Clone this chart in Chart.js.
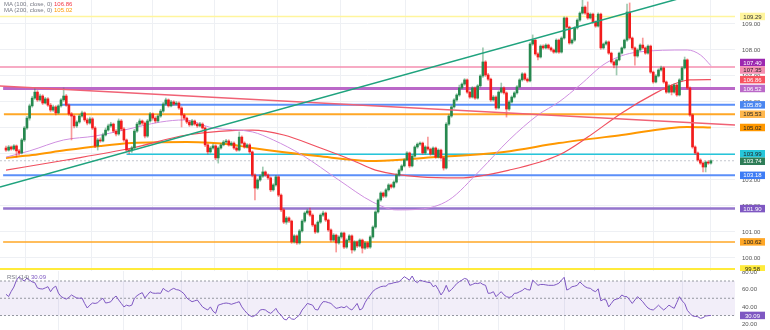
<!DOCTYPE html>
<html>
<head>
<meta charset="utf-8">
<script src="https://cdn.jsdelivr.net/npm/chart.js@4.4.0/dist/chart.umd.min.js"></script>
<style>
  body { margin: 0; background: #fff; }
  #wrap { position: relative; width: 770px; height: 330px; overflow: hidden; font-family: "Liberation Sans", Arial, sans-serif; }
  canvas { position: absolute; left: 0; }
  #main { top: 0; }
  #rsi { top: 271px; }
  .leg { position: absolute; font-size: 6px; line-height: 7px; color: #787b86; white-space: nowrap; }
</style>
</head>
<body>
<div id="wrap">
  <canvas id="main" width="770" height="271"></canvas>
  <canvas id="rsi" width="770" height="59"></canvas>
  <div class="leg" style="left:4px; top:1px">MA (100, close, 0) <span id="v100" style="color:#f23645"></span></div>
  <div class="leg" style="left:4px; top:6.5px">MA (200, close, 0) <span id="v200" style="color:#ff9800"></span></div>
  <div class="leg" style="left:7px; top:273.5px">RSI (14) <span id="vrsi" style="color:#7e57c2"></span></div>
</div>
<script>
// koersdata (bougies)
var opens = [
  104.23, 104.15, 104.27, 104.19, 104.31, 104.12, 104.04, 104.54, 105.00, 105.38,
  105.85, 106.15, 106.38, 106.08, 106.23, 105.96, 106.12, 105.88, 105.69, 105.81,
  105.58, 105.85, 106.08, 106.23, 105.88, 105.54, 105.46, 105.08, 105.23, 105.46,
  105.58, 105.31, 105.19, 105.35, 105.00, 104.31, 104.54, 104.50, 104.73, 104.92,
  105.08, 105.15, 104.88, 104.77, 105.27, 104.96, 104.54, 104.15, 104.12, 104.23,
  104.88, 105.15, 105.27, 105.19, 104.69, 105.27, 105.54, 105.38, 105.27, 105.46,
  105.65, 105.92, 106.08, 105.85, 106.00, 105.92, 105.96, 105.77, 105.50, 105.38,
  105.23, 105.12, 105.27, 105.15, 105.08, 105.15, 105.00, 104.35, 104.08, 104.23,
  104.31, 103.85, 104.23, 104.35, 104.46, 104.50, 104.35, 104.42, 104.23, 104.15,
  104.65, 104.42, 104.27, 104.35, 104.08, 103.19, 102.69, 103.00, 103.15, 103.31,
  103.19, 103.08, 102.62, 102.81, 103.12, 102.42, 101.85, 101.38, 101.54, 101.42,
  100.62, 100.85, 100.58, 101.04, 101.42, 101.73, 101.81, 101.65, 101.27, 101.00,
  101.38, 101.65, 101.73, 101.46, 101.08, 100.69, 100.88, 100.58, 100.81, 100.96,
  100.42, 100.69, 100.85, 100.31, 100.62, 100.46, 100.69, 100.38, 100.58, 100.42,
  100.81, 101.19, 101.77, 102.23, 102.50, 102.38, 102.62, 102.81, 102.73, 102.92,
  103.19, 103.38, 103.54, 103.77, 104.04, 103.54, 103.92, 104.27, 104.38, 104.42,
  104.04, 104.27, 104.19, 104.00, 104.23, 103.88, 104.15, 103.85, 103.46, 105.15,
  105.46, 105.81, 106.08, 106.27, 106.54, 106.69, 106.85, 106.38, 106.19, 106.54,
  106.15, 106.62, 107.00, 107.54, 107.04, 106.88, 106.08, 106.19, 105.77, 106.38,
  106.54, 106.35, 105.73, 106.00, 106.19, 106.35, 106.58, 106.85, 107.08, 106.88,
  106.81, 108.23, 108.38, 107.85, 107.73, 108.15, 108.08, 108.19, 108.08, 108.00,
  107.92, 108.38, 107.92, 108.46, 109.23, 108.88, 108.27, 108.38, 108.85, 109.15,
  109.42, 109.65, 109.42, 109.23, 109.38, 109.08, 108.92, 109.38, 108.08, 108.23,
  108.31, 107.88, 107.54, 107.42, 107.62, 107.88, 108.08, 108.38, 109.46, 108.46,
  108.08, 107.77, 108.00, 108.19, 108.08, 107.88, 108.15, 107.15, 106.77, 107.00,
  107.23, 107.31, 106.77, 106.38, 106.62, 106.38, 106.65, 106.27, 106.85, 107.31,
  107.62, 106.54, 105.50, 104.27, 104.04, 103.77, 103.65, 103.50, 103.69, 103.65
];
var highs = [
  104.30, 104.33, 104.31, 104.36, 104.35, 104.18, 104.60, 105.06, 105.45, 105.92,
  106.22, 106.54, 106.44, 106.30, 106.28, 106.18, 106.17, 105.95, 105.88, 105.86,
  105.90, 106.13, 106.54, 106.29, 105.93, 105.60, 105.50, 105.28, 105.52, 105.65,
  105.62, 105.38, 105.42, 105.40, 105.05, 104.60, 104.62, 104.80, 105.00, 105.15,
  105.22, 105.19, 104.94, 105.35, 105.33, 105.02, 104.58, 104.20, 104.30, 104.95,
  105.22, 105.35, 105.31, 105.24, 105.33, 105.60, 105.58, 105.44, 105.52, 105.72,
  105.98, 106.15, 106.12, 106.06, 106.05, 106.02, 106.01, 105.82, 105.55, 105.42,
  105.28, 105.33, 105.31, 105.19, 105.22, 105.20, 105.05, 104.40, 104.29, 104.38,
  104.36, 104.28, 104.40, 104.52, 104.56, 104.55, 104.48, 104.47, 104.28, 104.85,
  104.70, 104.47, 104.40, 104.40, 104.12, 103.24, 103.05, 103.20, 103.50, 103.35,
  103.24, 103.12, 102.86, 103.18, 103.16, 102.47, 101.90, 101.60, 101.58, 101.46,
  100.90, 100.89, 101.10, 101.48, 101.78, 101.88, 101.92, 101.70, 101.31, 101.43,
  101.70, 101.80, 101.77, 101.50, 101.12, 100.94, 100.92, 100.86, 101.00, 101.00,
  100.74, 100.90, 100.89, 100.67, 100.66, 100.74, 100.73, 100.63, 100.62, 100.86,
  101.24, 101.82, 102.28, 102.55, 102.54, 102.67, 102.86, 102.85, 102.97, 103.24,
  103.43, 103.59, 103.82, 104.09, 104.08, 103.97, 104.32, 104.43, 104.47, 104.46,
  104.32, 104.65, 104.23, 104.28, 104.27, 104.20, 104.19, 103.89, 105.21, 105.52,
  105.86, 106.13, 106.32, 106.65, 106.74, 106.90, 106.89, 106.43, 106.59, 106.58,
  106.67, 107.05, 108.08, 107.59, 107.10, 106.92, 106.25, 106.24, 106.43, 106.73,
  106.58, 106.39, 106.05, 106.24, 106.40, 106.63, 106.90, 107.13, 107.12, 106.93,
  108.29, 108.58, 108.42, 107.90, 108.20, 108.20, 108.24, 108.23, 108.12, 108.04,
  108.43, 108.42, 108.51, 109.28, 109.27, 108.92, 108.43, 108.90, 109.20, 109.47,
  109.92, 109.70, 109.85, 109.43, 109.42, 109.12, 109.43, 109.42, 108.27, 108.36,
  108.35, 107.92, 107.58, 107.66, 107.92, 108.12, 108.42, 109.77, 109.81, 108.50,
  108.12, 108.05, 108.24, 108.46, 108.12, 108.20, 108.19, 107.19, 107.05, 107.28,
  107.38, 107.35, 106.81, 106.67, 106.66, 106.70, 106.69, 106.90, 107.36, 107.73,
  107.66, 106.58, 105.54, 104.31, 104.08, 103.82, 103.70, 103.73, 103.74, 103.78
];
var lows = [
  104.10, 104.11, 104.14, 104.15, 103.88, 103.96, 104.00, 104.48, 104.95, 105.30,
  105.80, 106.10, 106.02, 106.03, 105.90, 105.92, 105.83, 105.62, 105.64, 105.50,
  105.54, 105.80, 106.02, 105.83, 105.48, 104.54, 105.00, 105.02, 105.18, 105.42,
  105.25, 105.12, 105.15, 104.94, 104.24, 104.15, 104.45, 104.46, 104.69, 104.88,
  105.03, 104.82, 104.70, 104.72, 104.90, 104.48, 104.08, 104.00, 104.06, 104.18,
  104.83, 105.10, 105.12, 104.62, 104.64, 105.22, 105.30, 105.20, 105.22, 105.41,
  105.60, 105.88, 105.80, 105.81, 105.87, 105.88, 105.71, 105.04, 105.32, 105.17,
  105.06, 105.08, 105.10, 105.02, 105.04, 104.95, 104.28, 104.00, 104.03, 104.19,
  103.78, 103.65, 104.19, 104.31, 104.42, 104.30, 104.31, 104.18, 104.10, 104.11,
  104.38, 104.22, 104.22, 104.02, 103.12, 102.23, 102.64, 102.95, 103.10, 103.14,
  103.02, 102.55, 102.57, 102.76, 102.36, 101.78, 101.32, 101.30, 101.36, 100.56,
  100.57, 100.52, 100.53, 100.99, 101.37, 101.68, 101.60, 101.21, 100.94, 100.96,
  101.33, 101.60, 101.40, 101.02, 100.62, 100.64, 100.23, 100.53, 100.76, 100.36,
  100.37, 100.64, 100.19, 100.26, 100.40, 100.42, 100.19, 100.33, 100.36, 100.37,
  100.76, 101.14, 101.72, 102.18, 102.32, 102.33, 102.57, 102.68, 102.69, 102.88,
  103.15, 103.34, 103.50, 103.73, 103.48, 103.50, 103.88, 104.22, 104.33, 103.99,
  103.99, 104.14, 103.95, 103.96, 103.83, 103.84, 103.80, 103.38, 103.42, 105.10,
  105.41, 105.76, 106.03, 106.22, 106.50, 106.64, 106.33, 106.14, 106.15, 106.10,
  106.11, 106.57, 106.95, 106.98, 106.83, 106.02, 106.03, 105.71, 105.73, 106.34,
  106.30, 105.42, 105.68, 105.96, 106.15, 106.30, 106.54, 106.80, 106.83, 106.76,
  106.77, 108.18, 107.80, 107.62, 107.69, 108.03, 108.04, 108.03, 107.95, 107.87,
  107.88, 107.87, 107.88, 108.42, 108.83, 108.22, 108.22, 108.33, 108.80, 109.10,
  109.38, 109.37, 109.18, 109.19, 109.03, 108.87, 108.88, 108.02, 108.03, 108.19,
  107.83, 107.49, 107.31, 107.04, 107.58, 107.84, 108.04, 108.33, 108.41, 108.02,
  107.42, 107.72, 107.96, 108.03, 107.83, 107.84, 107.10, 106.72, 106.73, 106.96,
  107.19, 106.72, 106.33, 106.34, 106.27, 106.34, 106.22, 106.23, 106.81, 107.27,
  106.49, 105.45, 104.22, 103.98, 103.72, 103.60, 103.31, 103.31, 103.60, 103.61
];
var closes = [
  104.15, 104.27, 104.19, 104.31, 104.12, 104.04, 104.54, 105.00, 105.38, 105.85,
  106.15, 106.38, 106.08, 106.23, 105.96, 106.12, 105.88, 105.69, 105.81, 105.58,
  105.85, 106.08, 106.23, 105.88, 105.54, 105.46, 105.08, 105.23, 105.46, 105.58,
  105.31, 105.19, 105.35, 105.00, 104.31, 104.54, 104.50, 104.73, 104.92, 105.08,
  105.15, 104.88, 104.77, 105.27, 104.96, 104.54, 104.15, 104.12, 104.23, 104.88,
  105.15, 105.27, 105.19, 104.69, 105.27, 105.54, 105.38, 105.27, 105.46, 105.65,
  105.92, 106.08, 105.85, 106.00, 105.92, 105.96, 105.77, 105.50, 105.38, 105.23,
  105.12, 105.27, 105.15, 105.08, 105.15, 105.00, 104.35, 104.08, 104.23, 104.31,
  103.85, 104.23, 104.35, 104.46, 104.50, 104.35, 104.42, 104.23, 104.15, 104.65,
  104.42, 104.27, 104.35, 104.08, 103.19, 102.69, 103.00, 103.15, 103.31, 103.19,
  103.08, 102.62, 102.81, 103.12, 102.42, 101.85, 101.38, 101.54, 101.42, 100.62,
  100.85, 100.58, 101.04, 101.42, 101.73, 101.81, 101.65, 101.27, 101.00, 101.38,
  101.65, 101.73, 101.46, 101.08, 100.69, 100.88, 100.58, 100.81, 100.96, 100.42,
  100.69, 100.85, 100.31, 100.62, 100.46, 100.69, 100.38, 100.58, 100.42, 100.81,
  101.19, 101.77, 102.23, 102.50, 102.38, 102.62, 102.81, 102.73, 102.92, 103.19,
  103.38, 103.54, 103.77, 104.04, 103.54, 103.92, 104.27, 104.38, 104.42, 104.04,
  104.27, 104.19, 104.00, 104.23, 103.88, 104.15, 103.85, 103.46, 105.15, 105.46,
  105.81, 106.08, 106.27, 106.54, 106.69, 106.85, 106.38, 106.19, 106.54, 106.15,
  106.62, 107.00, 107.54, 107.04, 106.88, 106.08, 106.19, 105.77, 106.38, 106.54,
  106.35, 105.73, 106.00, 106.19, 106.35, 106.58, 106.85, 107.08, 106.88, 106.81,
  108.23, 108.38, 107.85, 107.73, 108.15, 108.08, 108.19, 108.08, 108.00, 107.92,
  108.38, 107.92, 108.46, 109.23, 108.88, 108.27, 108.38, 108.85, 109.15, 109.42,
  109.65, 109.42, 109.23, 109.38, 109.08, 108.92, 109.38, 108.08, 108.23, 108.31,
  107.88, 107.54, 107.42, 107.62, 107.88, 108.08, 108.38, 109.46, 108.46, 108.08,
  107.77, 108.00, 108.19, 108.08, 107.88, 108.15, 107.15, 106.77, 107.00, 107.23,
  107.31, 106.77, 106.38, 106.62, 106.38, 106.65, 106.27, 106.85, 107.31, 107.62,
  106.54, 105.50, 104.27, 104.04, 103.77, 103.65, 103.50, 103.69, 103.65, 103.74
];
var rsi14 = [
  54.6, 52, 58, 63, 71, 75, 72, 70, 73.5, 71,
  69, 68, 62, 61, 60.7, 62, 63.4, 57.6, 62, 64,
  56, 52, 50.3, 49, 51, 53.8, 52, 50.3, 50, 50.3,
  44, 38.7, 42, 44.5, 44, 44.8, 48, 50, 44.5, 45,
  46, 50, 52.6, 48, 44, 40, 42, 41, 42, 50,
  53, 55, 56.5, 50.3, 54, 57.6, 56, 55.7, 56, 55.7,
  61.5, 59, 57.6, 60, 61.5, 60, 59.5, 57.6, 55, 50.3,
  48, 46, 47, 48, 44, 40, 38, 36.4, 40, 35,
  32.5, 42, 43, 44, 44.5, 44, 43, 44, 45, 46,
  40, 36, 32.5, 30, 28.6, 30, 32.5, 36.4, 37, 36.4,
  34, 32.5, 35, 38.3, 33, 30.6, 26, 24.8, 28.6, 26,
  25.5, 28, 30.6, 36.4, 40, 44, 43, 42, 37, 36.4,
  42, 46, 46, 45, 44, 41, 38.3, 39, 40, 39,
  40.8, 38, 36.4, 40, 44, 36.4, 38, 44.8, 50, 53.8,
  58, 60.4, 62, 63.4, 64, 64, 66.6, 67, 68, 68.5,
  69.2, 72, 75, 73, 71, 75.8, 70, 68, 71, 70,
  69.2, 68.5, 68, 63.4, 65, 60, 53.8, 58, 65, 57.6,
  60, 63.4, 67, 69.2, 71, 73, 72, 65, 66, 67.5,
  67, 68, 66, 65, 55.7, 56, 57.6, 51.8, 55, 57.6,
  54, 51.8, 51, 51.8, 55.7, 56, 57.6, 59, 61.5, 60,
  59.5, 71, 68, 65, 66, 66, 65.5, 65, 65, 65,
  66, 67.5, 71, 74.3, 59.5, 61, 63.4, 64, 65, 69,
  66, 63.4, 62, 61.5, 59, 57.6, 61, 47, 48.7, 48,
  40, 44, 48, 49, 50, 53.8, 52, 51.8, 48, 44,
  48, 51.8, 49, 46, 42, 38.7, 37, 36.4, 39, 42,
  39, 36.4, 39, 42, 40, 38.3, 45, 51.8, 47, 44,
  36, 32.5, 29.4, 29, 28.6, 26.7, 27.5, 29.4, 29.8, 30.09
];

// voortschrijdende gemiddelden (bougie-index + waarde)
var ma50Idx = [0, 9, 22, 34, 45, 59, 68, 79, 94, 102, 113, 127, 140, 149, 158, 169, 181, 192, 203, 211, 219, 229, 241, 260, 265, 269];
var ma50 = [103.88, 104.12, 104.54, 104.69, 104.92, 105.23, 105.31, 105.00, 104.85, 104.54, 103.96, 103.00, 102.15, 101.85, 101.88, 102.23, 103.38, 104.54, 105.50, 106.00, 106.65, 107.50, 107.92, 108.00, 107.81, 107.40];
var ma100Idx = [0, 23, 48, 69, 94, 106, 119, 132, 141, 158, 173, 192, 211, 222, 235, 248, 256, 261, 269];
var ma100 = [103.38, 103.77, 104.23, 104.73, 104.92, 104.73, 104.27, 103.77, 103.38, 103.12, 103.08, 103.38, 103.96, 104.65, 105.58, 106.35, 106.73, 106.85, 106.86];
var ma200Idx = [0, 10, 23, 36, 48, 69, 87, 94, 119, 141, 164, 190, 211, 235, 260, 269];
var ma200 = [103.85, 103.96, 104.15, 104.31, 104.42, 104.46, 104.35, 104.23, 103.92, 103.73, 103.88, 104.08, 104.42, 104.73, 105.04, 105.02];

// horizontale niveaus en waar ze beginnen
var levelPrices = [109.29, 107.35, 106.52, 105.89, 105.53, 103.99, 103.18, 101.90, 100.62, 99.58];
var levelStart = [-2.3, -2.3, -1.1, 21.4, -0.8, 46, -1.1, -1.1, -1.1, -2.3];

// trendlijnen
var upIdx = [-2.3, 262];
var upPrice = [102.73, 110.12];
var downIdx = [-2.3, 278.2];
var downPrice = [106.62, 105.12];

var gridIdx = [20, 45, 67, 92, 115, 140, 165, 188, 213, 236, 258];

// stijlen
var levelColors = ["#fff59d", "#f48fb1", "#ba68c8", "#5b8ff9", "#ffa726", "#26c6da", "#5b8ff9", "#9575cd", "#ffa726", "#ffeb3b"];
var levelWidths = [1.5, 1.5, 3, 2, 2, 1.5, 2, 2.5, 1.5, 2];
var levelTagBg = ["#fff59d", "#f48fb1", "#ba68c8", "#4a86f0", "#ffb74d", "#26c6da", "#3d7cf5", "#7e57c2", "#ffa726", "#ffeb3b"];
var levelTagFg = ["#333", "#222", "#fff", "#fff", "#222", "#222", "#fff", "#fff", "#222", "#222"];
var upColor = "#27894f";
var downColor = "#f21c1c";
var gridColor = "#eef0f4";
var tickFont = { family: "'Liberation Sans', Arial, sans-serif", size: 6 };

var xMin = -2.29;
var xMax = 278.2;
var last = closes.length - 1;

function points(idx, vals) {
    return idx.map(function (x, k) { return { x: x, y: vals[k] }; });
}
function flat(from, price) {
    return [{ x: from, y: price }, { x: xMax, y: price }];
}
function lineSet(data, color, width, order) {
    return { type: "line", data: data, borderColor: color, borderWidth: width, pointRadius: 0, fill: false, order: order };
}

// prijslabels rechts, schuiven uit elkaar als ze overlappen
function drawTags(chart, tags) {
    var ctx = chart.ctx;
    var sc = chart.scales.y;
    var h = 7.5;
    var list = tags.map(function (t) {
        return { v: t.v, bg: t.bg, fg: t.fg, y: sc.getPixelForValue(t.v) };
    });
    list.sort(function (a, b) { return a.y - b.y; });
    for (var pass = 0; pass < 8; pass++) {
        for (var k = 1; k < list.length; k++) {
            var d = list[k].y - list[k - 1].y;
            if (d < h) {
                var s = (h - d) / 2;
                list[k - 1].y -= s;
                list[k].y += s;
            }
        }
    }
    ctx.save();
    ctx.font = "6px 'Liberation Sans', Arial, sans-serif";
    ctx.textAlign = "center";
    ctx.textBaseline = "middle";
    list.forEach(function (t) {
        ctx.fillStyle = t.bg;
        ctx.fillRect(740, t.y - h / 2, 25, h);
        ctx.fillStyle = t.fg;
        ctx.fillText(t.v.toFixed(2), 752.5, t.y + 0.5);
    });
    ctx.restore();
}

function xScale() {
    return {
        type: "linear", min: xMin, max: xMax, offset: false,
        ticks: { display: false },
        grid: { color: gridColor, drawTicks: false },
        border: { display: false },
        afterBuildTicks: function (s) { s.ticks = gridIdx.map(function (v) { return { value: v }; }); },
        afterFit: function (s) { s.height = 0; s.paddingLeft = 0; s.paddingRight = 0; }
    };
}
function yScale(min, max, step, grid) {
    return {
        position: "right", min: min, max: max,
        ticks: { stepSize: step, includeBounds: false, padding: 7, color: "#555", font: tickFont,
                 callback: function (v) { return v.toFixed(2); } },
        grid: { display: grid, color: gridColor, drawTicks: false },
        border: { display: false },
        afterFit: function (s) { s.width = 35; s.paddingTop = 0; s.paddingBottom = 0; }
    };
}

// hoofdgrafiek
var mainSets = [];
levelPrices.forEach(function (p, k) {
    mainSets.push(lineSet(flat(levelStart[k], p), levelColors[k], levelWidths[k], 20));
});
var dash = lineSet(flat(xMin, closes[last]), "#c3c6ce", 1, 19);
dash.borderDash = [2, 2];
mainSets.push(dash);

[[ma50Idx, ma50, "#cf8fe0", 1], [ma100Idx, ma100, "#f0505f", 1.2], [ma200Idx, ma200, "#ff9800", 2]].forEach(function (m) {
    var ds = lineSet(points(m[0], m[1]), m[2], m[3], 8);
    ds.cubicInterpolationMode = "monotone";
    mainSets.push(ds);
});

mainSets.push({
    type: "bar", order: 4, grouped: false, barThickness: 1,
    data: closes.map(function (c, i) { return { x: i, y: [lows[i], highs[i]] }; }),
    backgroundColor: closes.map(function (c, i) { return c >= opens[i] ? "rgba(39,137,79,0.45)" : "rgba(242,28,28,0.45)"; })
});
mainSets.push({
    type: "bar", order: 3, grouped: false, barThickness: 2, minBarLength: 1,
    data: closes.map(function (c, i) { return { x: i, y: [opens[i], c] }; }),
    backgroundColor: closes.map(function (c, i) { return c >= opens[i] ? upColor : downColor; })
});
mainSets.push(lineSet(points(upIdx, upPrice), "#1fa37e", 1.5, 2));
mainSets.push(lineSet(points(downIdx, downPrice), "#f06275", 1.5, 2));

var mainTags = [
    { v: levelPrices[0], bg: levelTagBg[0], fg: levelTagFg[0] },
    { v: ma50[ma50.length - 1], bg: "#9c27b0", fg: "#fff" },
    { v: ma100[ma100.length - 1], bg: "#f7525f", fg: "#fff" },
    { v: ma200[ma200.length - 1], bg: "#ff9800", fg: "#222" },
    { v: closes[last], bg: "#2e7d57", fg: "#fff" }
];
for (var k = 1; k < levelPrices.length; k++) {
    mainTags.push({ v: levelPrices[k], bg: levelTagBg[k], fg: levelTagFg[k] });
}

new Chart(document.getElementById("main").getContext("2d"), {
    type: "bar",
    data: { datasets: mainSets },
    options: {
        responsive: false, animation: false, devicePixelRatio: 1,
        layout: { padding: 0 },
        plugins: { legend: { display: false }, tooltip: { enabled: false } },
        scales: { x: xScale(), y: yScale(99.5, 109.923, 1, true) }
    },
    plugins: [{ id: "tags", afterDraw: function (chart) { drawTags(chart, mainTags); } }]
});

// RSI paneel
var rsiBand = {
    id: "rsiBand",
    beforeDatasetsDraw: function (chart) {
        var a = chart.chartArea;
        var y = chart.scales.y;
        var top = y.getPixelForValue(70);
        var bot = y.getPixelForValue(30);
        chart.ctx.save();
        chart.ctx.fillStyle = "rgba(126, 87, 194, 0.1)";
        chart.ctx.fillRect(a.left, top, a.right - a.left, bot - top);
        chart.ctx.restore();
    },
    afterDraw: function (chart) {
        drawTags(chart, [{ v: rsi14[last], bg: "#7e57c2", fg: "#fff" }]);
    }
};

var rsiSets = [];
[70, 50, 30].forEach(function (v) {
    var ds = lineSet(flat(xMin, v), "#9598a1", 1, 5);
    ds.borderDash = [2, 2];
    rsiSets.push(ds);
});
rsiSets.push(lineSet(rsi14.map(function (v, i) { return { x: i, y: v }; }), "#7e57c2", 1, 1));

new Chart(document.getElementById("rsi").getContext("2d"), {
    type: "line",
    data: { datasets: rsiSets },
    options: {
        responsive: false, animation: false, devicePixelRatio: 1,
        layout: { padding: 0 },
        plugins: { legend: { display: false }, tooltip: { enabled: false } },
        scales: { x: xScale(), y: yScale(13.2, 81.6, 20, false) }
    },
    plugins: [rsiBand]
});

document.getElementById("v100").textContent = ma100[ma100.length - 1].toFixed(2);
document.getElementById("v200").textContent = ma200[ma200.length - 1].toFixed(2);
document.getElementById("vrsi").textContent = rsi14[last].toFixed(2);
</script>
</body>
</html>
